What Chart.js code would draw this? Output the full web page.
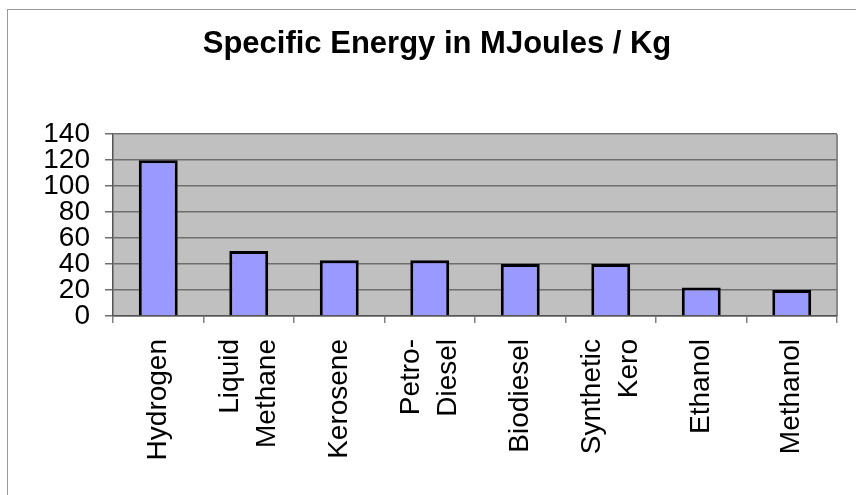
<!DOCTYPE html>
<html>
<head>
<meta charset="utf-8">
<script src="https://cdn.jsdelivr.net/npm/chart.js@4.4.0/dist/chart.umd.min.js"></script>
<style>
  html, body { margin: 0; padding: 0; background: #fff; overflow: hidden; }
  #wrap { position: relative; width: 856px; height: 495px; }
  #frame { position: absolute; left: 7px; top: 9px; width: 900px; height: 600px;
           border-left: 1px solid #9a9a9a; border-top: 1px solid #9a9a9a; }
  #energyChart { position: absolute; left: 0; top: 0; }
</style>
</head>
<body>
<div id="wrap">
  <div id="frame"></div>
  <canvas id="energyChart" width="856" height="495"></canvas>
</div>
<script>
const fuels = ['Hydrogen', ['Liquid', 'Methane'], 'Kerosene', ['Petro-', 'Diesel'],
               'Biodiesel', ['Synthetic', 'Kero'], 'Ethanol', 'Methanol'];
const energyMJperKg = [120, 50, 43, 43, 40, 40, 22, 20];
const yMin = 0;
const yMax = 140;
const yStep = 20;

// grey plot area + right edge like the old office chart
const plotBackground = {
  id: 'plotBackground',
  beforeDraw(chart) {
    const { ctx, chartArea: a } = chart;
    ctx.save();
    ctx.fillStyle = '#c0c0c0';
    ctx.fillRect(a.left, a.top, a.width, a.height);
    ctx.strokeStyle = '#8a8a8a';
    ctx.lineWidth = 2;
    ctx.beginPath();
    ctx.moveTo(a.right, a.top);
    ctx.lineTo(a.right, a.bottom);
    ctx.stroke();
    ctx.restore();
  }
};

// centre the two-line labels on their tick instead of starting at it
const centerMultiLine = {
  id: 'centerMultiLine',
  beforeDraw(chart) {
    const scale = chart.scales.x;
    const items = scale.getLabelItems();
    items.forEach(item => {
      if (Array.isArray(item.label) && !item._centered) {
        const lh = item.font.lineHeight;
        item.options.translation[0] -= (item.label.length - 1) * lh / 2;
        item._centered = true;
      }
    });
  }
};

const ctx = document.getElementById('energyChart');
new Chart(ctx, {
  type: 'bar',
  data: {
    labels: fuels,
    datasets: [{
      label: 'MJoules / Kg',
      data: energyMJperKg,
      backgroundColor: '#9999ff',
      borderColor: '#000000',
      borderWidth: 3,
      barPercentage: 0.43,
      categoryPercentage: 1.0
    }]
  },
  options: {
    responsive: false,
    animation: false,
    layout: { padding: { top: 26, left: 37, right: 19, bottom: 0 } },
    plugins: {
      legend: { display: false },
      tooltip: { enabled: false },
      title: {
        display: true,
        text: 'Specific Energy in MJoules / Kg',
        color: '#000',
        font: { family: '"Liberation Sans", Arial, sans-serif', size: 31, weight: 'bold', lineHeight: 1.2 },
        padding: { top: 0, bottom: 71 }
      }
    },
    scales: {
      x: {
        afterFit(scale) { scale.height = 179; },
        grid: { display: true, drawOnChartArea: false, drawTicks: true, tickLength: 7, color: '#808080', lineWidth: 1.5 },
        border: { display: true, color: '#555', width: 1.5 },
        ticks: {
          autoSkip: false,
          maxRotation: 90,
          minRotation: 90,
          padding: 16,
          color: '#000',
          font: { family: '"Liberation Sans", Arial, sans-serif', size: 28, lineHeight: 1.3 }
        }
      },
      y: {
        min: yMin,
        max: yMax,
        afterFit(scale) { scale.width = 76; },
        grid: { color: '#6e6e6e', lineWidth: 1.5, tickLength: 8 },
        border: { display: true, color: '#555', width: 1.5 },
        ticks: {
          autoSkip: false,
          stepSize: yStep,
          padding: 15,
          color: '#000',
          font: { family: '"Liberation Sans", Arial, sans-serif', size: 28, lineHeight: 0.8 }
        }
      }
    }
  },
  plugins: [plotBackground, centerMultiLine]
});
</script>
</body>
</html>
